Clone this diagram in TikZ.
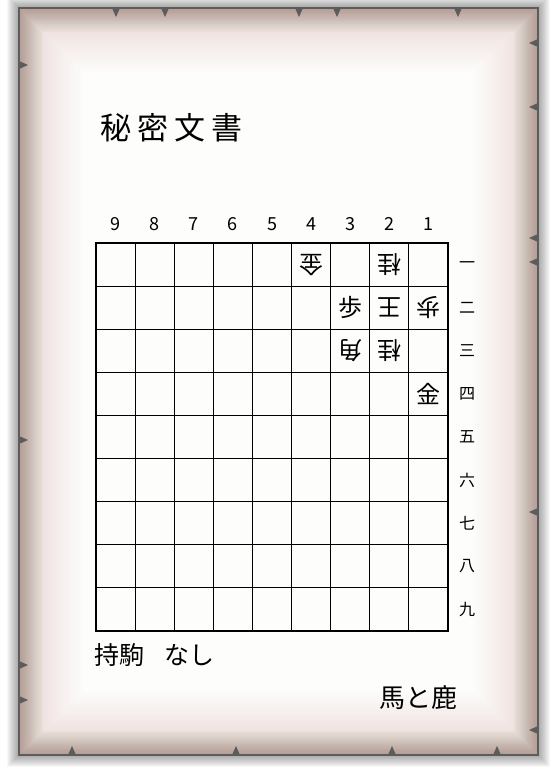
\documentclass[tikz,border=0pt]{standalone}
\usepackage{fontspec}
\newfontfamily\jp{Noto Sans CJK JP}
\definecolor{paperedge}{RGB}{176,138,124}
\definecolor{notch}{RGB}{92,92,92}

\begin{document}
\begin{tikzpicture}[x=1pt, y=-1pt,
  gridline/.style={draw=black, line width=0.9pt},
  piece/.style={font=\jp\fontsize{24}{24}\selectfont, inner sep=0pt},
  gote/.style={piece, rotate=180},
  colnum/.style={font=\jp\fontsize{18}{18}\selectfont, inner sep=0pt},
  rownum/.style={font=\jp\fontsize{16}{16}\selectfont, inner sep=0pt},
  caption/.style={font=\jp\fontsize{#1}{#1}\selectfont, inner sep=0pt, anchor=west}]
  \useasboundingbox (0,0) rectangle (551,767);
  \fill[white] (0,0) rectangle (551,767);
  % shadow round the sheet
  \foreach \i in {1,...,12}
    \fill[black, opacity=0.03] (19-\i,8-\i) rectangle (538+\i,755+\i);
  % the sheet, darker at its edges
  \fill[white!98!paperedge] (19,8) rectangle (538,755);
  \foreach \i in {1,...,20}
    \fill[paperedge, opacity=0.045, even odd rule] (19,8) rectangle (538,755)
      (19+\i*1.2,8+\i*1.2) rectangle (538-\i*1.2,755-\i*1.2);
  \foreach \i in {1,...,20}
    \fill[paperedge, opacity=0.011, even odd rule] (19,8) rectangle (538,755)
      (19+\i*3.2,8+\i*3.2) rectangle (538-\i*3.2,755-\i*3.2);
  \draw[notch, line width=2pt] (19,8) rectangle (538,755);
  % torn notches
  \foreach \x in {116,165,299,337,458}
    \fill[notch] (\x-4,8) -- (\x+4,8) -- (\x,17) -- cycle;
  \foreach \x in {72,236,392,497}
    \fill[notch] (\x-4,755) -- (\x+4,755) -- (\x,746) -- cycle;
  \foreach \y in {65,440,665,700}
    \fill[notch] (19,\y-4) -- (19,\y+4) -- (28,\y) -- cycle;
  \foreach \y in {43,107,238,262,512,730}
    \fill[notch] (538,\y-4) -- (538,\y+4) -- (529,\y) -- cycle;

  \node[caption=31] (title) at (100,128) {秘\hspace{6pt}密\hspace{6pt}文\hspace{6pt}書};

  % board
  \foreach \i in {1,...,8}
    \draw[gridline] (96+\i*39.11,243) -- (96+\i*39.11,631);
  \foreach \j in {1,...,8}
    \draw[gridline] (96,243+\j*43.11) -- (448,243+\j*43.11);
  \draw[line width=2.4pt] (96,243) rectangle (448,631);
  \foreach \c in {1,...,9}
    \node[colnum] (col\c) at ({448-(\c-0.5)*39.11},224) {\c};
  \foreach \k [count=\r] in {一,二,三,四,五,六,七,八,九}
    \node[rownum] (row\r) at (467,{243+(\r-0.5)*43.11}) {\k};

  % pieces
  \node[gote] (g41) at (311.1,264.6) {金};
  \node[gote] (g21) at (389.3,264.6) {桂};
  \node[piece] (s32) at (350.2,307.7) {歩};
  \node[gote] (g22) at (389.3,307.7) {王};
  \node[gote] (g12) at (428.4,307.7) {歩};
  \node[gote] (g33) at (350.2,350.8) {角};
  \node[gote] (g23) at (389.3,350.8) {桂};
  \node[piece] (s14) at (428.4,393.9) {金};

  \node[caption=25] (hand) at (94,655) {持駒\hspace{20pt}なし};
  \node[caption=26] (sign) at (379,698) {馬と鹿};
\end{tikzpicture}
\end{document}
